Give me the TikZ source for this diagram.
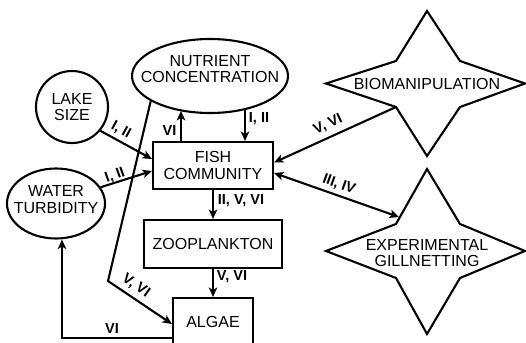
\documentclass[tikz,border=0pt]{standalone}
\usepackage{fontspec}
\setmainfont{Liberation Sans}
\usetikzlibrary{arrows.meta,shapes.geometric}
\begin{document}
\begin{tikzpicture}[x=1pt,y=-1pt,
  line width=2.1pt,
  txt/.style={align=center, inner sep=0pt, font=\fontsize{16}{16.5}\selectfont},
  box/.style={draw, rectangle, txt},
  lbl/.style={inner sep=0pt, font=\bfseries\fontsize{14.5}{14.5}\selectfont},
  arr/.style={-{Stealth[length=9.5pt,width=8.5pt,inset=2.5pt]}},
  darr/.style={{Stealth[length=9.5pt,width=8.5pt,inset=2.5pt]}-{Stealth[length=9.5pt,width=8.5pt,inset=2.5pt]}},
  ]
\useasboundingbox (0,0) rectangle (526,342);

% boxes
\node[box, minimum width=120pt, minimum height=47pt] (fish) at (213,165.5) {FISH\\COMMUNITY};
\node[box, minimum width=138pt, minimum height=48pt] (zoo) at (213,244) {ZOOPLANKTON};
\node[box, minimum width=80pt, minimum height=48pt] (algae) at (213,322) {ALGAE};

% ovals
\node[draw, ellipse, minimum width=156pt, minimum height=74pt, inner sep=0pt] (nut) at (210,76) {};
\node[txt] (nutt) at (210,69) {NUTRIENT\\CONCENTRATION};
\node[draw, circle, minimum size=72pt, txt] (lake) at (72,107) {LAKE\\SIZE};
\node[draw, ellipse, minimum width=98pt, minimum height=70pt, inner sep=0pt] (water) at (56,203.5) {};
\node[txt] (watert) at (56,199.5) {WATER\\TURBIDITY};

% stars
\draw (427,11) -- (460,61) -- (525,83.5) -- (460,107) -- (427,156) -- (396,107) coordinate (biosw)
  -- (326,83.5) -- (396,61) -- cycle;
\node[txt] (bio) at (427,84) {BIOMANIPULATION};
\draw (427,169) -- (460,224) -- (525,251) -- (460,278) -- (427,334) -- (396,278)
  -- (326,251) -- (396,224) -- cycle;
\coordinate (gilltip) at (399,217);
\node[txt] (gill) at (427,253) {EXPERIMENTAL\\GILLNETTING};

\coordinate (bend) at (108,281);

% connectors
\draw[arr] (lake.-40) -- ([yshift=6.5pt]fish.west);
\draw[arr] (water.20) -- ([yshift=-5.5pt]fish.west);
\draw[arr] (nut.203) -- (bend) -- ([yshift=-2pt]algae.west);
\draw[arr] ([xshift=-32pt]fish.north) -- ([xshift=-32pt]fish.north |- nut.228);
\draw[arr] ([xshift=32pt]fish.north |- nut.315) -- ([xshift=32pt]fish.north);
\draw[arr] (fish.south) -- (zoo.north);
\draw[arr] (zoo.south) -- (algae.north);
\draw[arr] ([yshift=-16pt]algae.west) -| ([xshift=6pt]water.south);
\draw[arr] (biosw) -- ([yshift=3pt]fish.east);
\draw[darr] ([yshift=-7.5pt]fish.east) -- (gilltip);

% labels
\node[lbl, rotate=-29] (l1) at (121,130) {I, II};
\node[lbl, rotate=20] (l2) at (115,175.5) {I, II};
\node[lbl, rotate=-35] (l3) at (136,286) {V, VI};
\node[lbl] (l4) at (169.5,131) {VI};
\node[lbl] (l5) at (259,119) {I, II};
\node[lbl] (l6) at (241,201) {II, V, VI};
\node[lbl] (l7) at (232,276.5) {V, VI};
\node[lbl] (l8) at (112,329) {VI};
\node[lbl, rotate=25] (l9) at (328,124.5) {V, VI};
\node[lbl, rotate=-20] (l10) at (339,184.5) {III, IV};
\end{tikzpicture}
\end{document}
